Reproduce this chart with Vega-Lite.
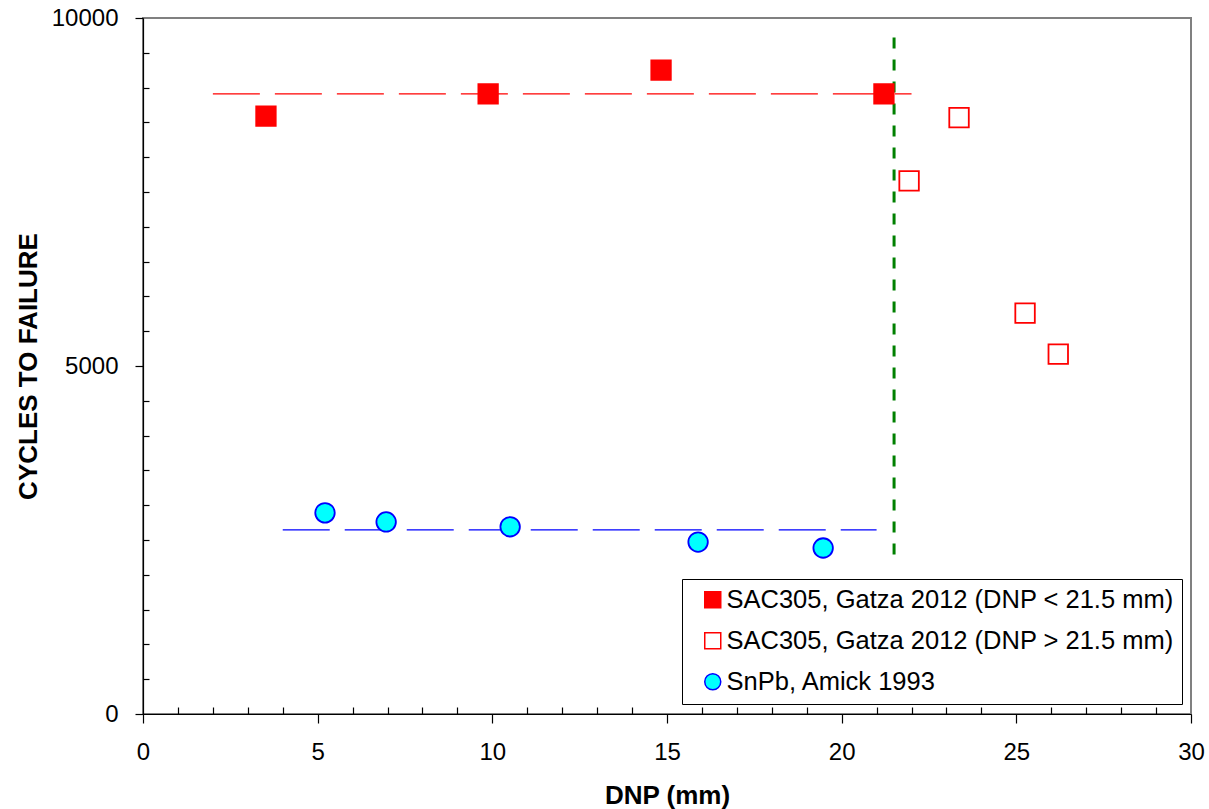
{
  "$schema": "https://vega.github.io/schema/vega-lite/v6.json",
  "width": 1048,
  "height": 696,
  "autosize": {"type": "none"},
  "padding": {"left": 143, "top": 18, "right": 18, "bottom": 95},
  "background": "white",
  "config": {
    "font": "Liberation Sans",
    "view": {"stroke": "#808080", "strokeWidth": 2},
    "axis": {"grid": false, "domainColor": "black", "tickColor": "black", "labelColor": "black", "titleColor": "black", "labelFont": "Liberation Sans", "titleFont": "Liberation Sans", "labelFontSize": 24, "titleFontSize": 26, "titleFontWeight": "bold", "domainWidth": 1.2, "tickWidth": 1.2}
  },
  "datasets": {
    "points": [
      {"dnp": 3.52, "cycles": 8590, "series": "SAC305, Gatza 2012 (DNP < 21.5 mm)"},
      {"dnp": 9.88, "cycles": 8910, "series": "SAC305, Gatza 2012 (DNP < 21.5 mm)"},
      {"dnp": 14.83, "cycles": 9250, "series": "SAC305, Gatza 2012 (DNP < 21.5 mm)"},
      {"dnp": 21.21, "cycles": 8910, "series": "SAC305, Gatza 2012 (DNP < 21.5 mm)"},
      {"dnp": 21.93, "cycles": 7660, "series": "SAC305, Gatza 2012 (DNP > 21.5 mm)"},
      {"dnp": 23.36, "cycles": 8570, "series": "SAC305, Gatza 2012 (DNP > 21.5 mm)"},
      {"dnp": 25.25, "cycles": 5760, "series": "SAC305, Gatza 2012 (DNP > 21.5 mm)"},
      {"dnp": 26.2, "cycles": 5170, "series": "SAC305, Gatza 2012 (DNP > 21.5 mm)"},
      {"dnp": 5.21, "cycles": 2890, "series": "SnPb, Amick 1993"},
      {"dnp": 6.96, "cycles": 2760, "series": "SnPb, Amick 1993"},
      {"dnp": 10.51, "cycles": 2690, "series": "SnPb, Amick 1993"},
      {"dnp": 15.89, "cycles": 2470, "series": "SnPb, Amick 1993"},
      {"dnp": 19.47, "cycles": 2385, "series": "SnPb, Amick 1993"}
    ],
    "redline": [{"dnp": 2.0, "cycles": 8910}, {"dnp": 22.0, "cycles": 8910}],
    "blueline": [{"dnp": 4.0, "cycles": 2645}, {"dnp": 21.0, "cycles": 2645}],
    "greenline": [{"dnp": 21.5, "cycles": 9720}, {"dnp": 21.5, "cycles": 2200}]
  },
  "layer": [
    {
      "data": {"name": "redline"},
      "mark": {"type": "line", "color": "#ff0000", "strokeWidth": 1.3, "strokeDash": [47, 15]},
      "encoding": {
        "x": {"field": "dnp", "type": "quantitative", "scale": {"domain": [0, 30], "nice": false},
          "axis": {"title": "DNP (mm)", "tickCount": 100, "format": "d", "values": [0,1,2,3,4,5,6,7,8,9,10,11,12,13,14,15,16,17,18,19,20,21,22,23,24,25,26,27,28,29,30],
            "labelExpr": "datum.value % 5 === 0 ? datum.label : ''",
            "tickSize": {"condition": {"test": "datum.value % 5 === 0", "value": 9}, "value": -7},
            "labelPadding": 17, "titlePadding": 18, "labelFlush": false, "labelOverlap": false}},
        "y": {"field": "cycles", "type": "quantitative", "scale": {"domain": [0, 10000], "nice": false},
          "axis": {"title": "CYCLES TO FAILURE", "tickCount": 100, "values": [0,500,1000,1500,2000,2500,3000,3500,4000,4500,5000,5500,6000,6500,7000,7500,8000,8500,9000,9500,10000],
            "labelExpr": "datum.value % 5000 === 0 ? datum.label : ''",
            "format": "d",
            "tickSize": {"condition": {"test": "datum.value % 5000 === 0", "value": 8}, "value": -6},
            "labelPadding": 17, "titlePadding": 10, "labelFlush": false, "labelOverlap": false}}
      }
    },
    {
      "data": {"name": "blueline"},
      "mark": {"type": "line", "color": "#0000ff", "strokeWidth": 1.3, "strokeDash": [47, 15]},
      "encoding": {
        "x": {"field": "dnp", "type": "quantitative"},
        "y": {"field": "cycles", "type": "quantitative"}
      }
    },
    {
      "data": {"name": "greenline"},
      "mark": {"type": "line", "color": "#008000", "strokeWidth": 3, "strokeDash": [11, 11]},
      "encoding": {
        "x": {"field": "dnp", "type": "quantitative"},
        "y": {"field": "cycles", "type": "quantitative"}
      }
    },
    {
      "data": {"name": "points"},
      "mark": {"type": "point", "size": 380, "strokeWidth": 1.8, "opacity": 1, "filled": false},
      "encoding": {
        "x": {"field": "dnp", "type": "quantitative"},
        "y": {"field": "cycles", "type": "quantitative"},
        "shape": {"field": "series", "type": "nominal", "scale": {"domain": ["SAC305, Gatza 2012 (DNP < 21.5 mm)", "SAC305, Gatza 2012 (DNP > 21.5 mm)", "SnPb, Amick 1993"], "range": ["square", "square", "circle"]},
          "legend": {"title": null, "orient": "none", "legendX": 539, "legendY": 561, "padding": 8, "rowPadding": 14, "symbolOffset": 10, "strokeColor": "black", "fillColor": "white", "labelFont": "Liberation Sans", "labelFontSize": 25.5, "labelLimit": 700, "symbolSize": 256, "symbolStrokeWidth": 1.5, "labelOffset": 1,
            "encode": {"labels": {"update": {"fill": {"signal": "datum.label === 'SnPb, Amick 1993' ? '#0000ff' : '#ff0000'"}}}}}},
        "fill": {"field": "series", "type": "nominal", "scale": {"domain": ["SAC305, Gatza 2012 (DNP < 21.5 mm)", "SAC305, Gatza 2012 (DNP > 21.5 mm)", "SnPb, Amick 1993"], "range": ["#ff0000", "#ffffff", "#00ffff"]}},
        "stroke": {"field": "series", "type": "nominal", "scale": {"domain": ["SAC305, Gatza 2012 (DNP < 21.5 mm)", "SAC305, Gatza 2012 (DNP > 21.5 mm)", "SnPb, Amick 1993"], "range": ["#ff0000", "#ff0000", "#0000ff"]}}
      }
    }
  ]
}
